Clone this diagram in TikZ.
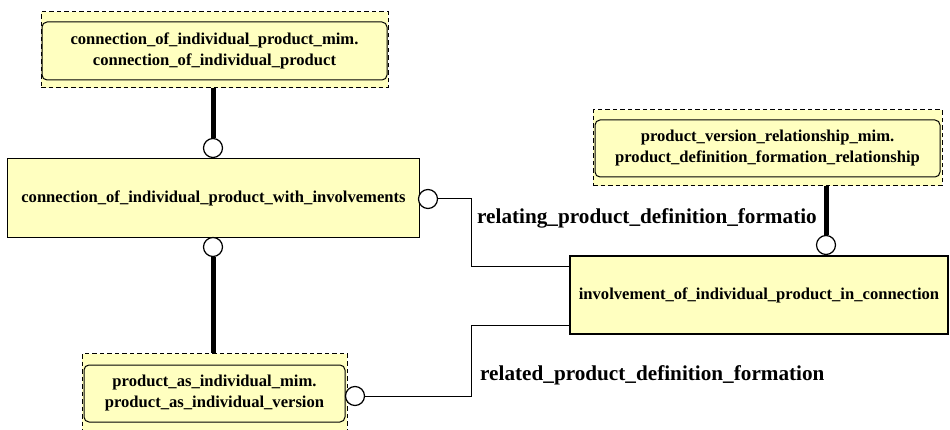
\documentclass[tikz,border=0pt]{standalone}
\usepackage{fontspec}
\setmainfont{Liberation Serif}
\usetikzlibrary{positioning}
\definecolor{boxfill}{RGB}{255,255,192}

\begin{document}
\begin{tikzpicture}[x=1pt,y=-1pt,
	entity/.style={draw,line width=1.2pt,fill=boxfill,align=center,inner sep=0pt,
		font=\fontsize{16.6}{21}\selectfont\bfseries},
	mimouter/.style={draw,line width=1pt,dash pattern=on 4.5pt off 3pt,fill=boxfill,inner sep=0pt},
	miminner/.style={entity,rounded corners=5pt,line width=1pt},
	ring/.style={draw,circle,line width=1.2pt,fill=white,minimum size=19pt,inner sep=0pt},
	mainrel/.style={line width=5pt},
	rolerel/.style={line width=1pt},
	rolelabel/.style={anchor=west,inner sep=0pt,font=\fontsize{21.2}{21.2}\selectfont\bfseries}]
					\useasboundingbox (0,0) rectangle (950,430);
					% mim boxes
					\node[mimouter,minimum width=347pt,minimum height=76pt] (cipOuter) at (214.5,50) {};
					\node[miminner,minimum width=345pt,minimum height=58pt] (cipInner) at (214.5,51)
						{connection\_of\_individual\_product\_mim.\\connection\_of\_individual\_product};
					\node[mimouter,minimum width=349pt,minimum height=76pt] (pvrOuter) at (767.5,148) {};
					\node[miminner,minimum width=345pt,minimum height=57pt] (pvrInner) at (767.5,148.5)
						{product\_version\_relationship\_mim.\\product\_definition\_formation\_relationship};
					\node[mimouter,minimum width=265pt,minimum height=77pt] (paiOuter) at (214.5,392) {};
					\node[miminner,minimum width=261pt,minimum height=57pt] (paiInner) at (214.5,393.5)
						{product\_as\_individual\_mim.\\product\_as\_individual\_version};
					% entities
					\node[entity,minimum width=412pt,minimum height=79pt] (cipwi) at (213.5,198)
						{connection\_of\_individual\_product\_with\_involvements};
					\node[entity,minimum width=378pt,minimum height=78pt] (iipc) at (759,295)
						{involvement\_of\_individual\_product\_in\_connection};
					% rings
					\node[ring] (rTop) at (213,148) {};
					\node[ring] (rBot) at (213,247) {};
					\node[ring] (rRight) at (428,199) {};
					\node[ring] (rPvr) at (826,245) {};
					\node[ring] (rPai) at (355,396) {};
					% relations
					\draw[mainrel] (cipOuter.south -| rTop) -- (rTop.north);
					\draw[mainrel] (rBot.south) -- (rBot |- paiOuter.north);
					\draw[mainrel] (pvrOuter.south -| rPvr) -- (rPvr.north);
					\coordinate (bendA) at (471,267);
					\coordinate (bendB) at (471,325);
					\draw[rolerel] (rRight.east) -| (bendA) -- (bendA -| iipc.west);
					\draw[rolerel] (rPai.east) -| (bendB) -- (bendB -| iipc.west);
					\node[rolelabel] (lblRelating) at (477,218) {relating\_product\_definition\_formatio};
					\node[rolelabel] (lblRelated) at (480,375) {related\_product\_definition\_formation};
				\end{tikzpicture}
\end{document}
